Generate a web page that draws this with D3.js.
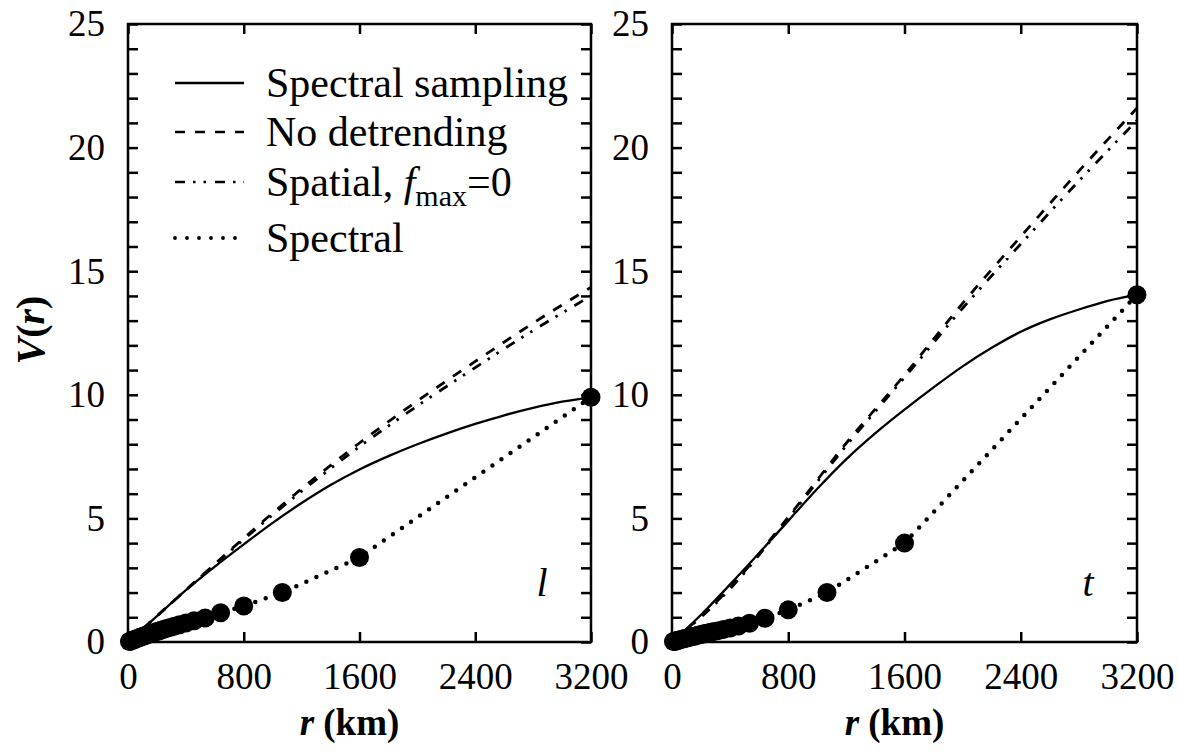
<!DOCTYPE html>
<html>
<head>
<meta charset="utf-8">
<script src="https://cdn.jsdelivr.net/npm/d3@7"></script>
<style>
  html, body { margin: 0; padding: 0; background: #fff; }
  svg { display: block; font-family: "Liberation Serif", "Times New Roman", serif; }
  .axis path, .axis line { stroke: #000; stroke-width: 2.5; }
  .axis text { font-size: 37px; fill: #000; font-family: "Liberation Serif", serif; }
</style>
</head>
<body>
<svg id="chart" width="1178" height="751"></svg>
<script>
// smooth curves, sampled every 200 km
const rFine = [0, 200, 400, 600, 800, 1000, 1200, 1400, 1600, 1800, 2000, 2200, 2400, 2600, 2800, 3000, 3200];
const samplingL = [0, 1.05, 2.1, 3.05, 3.95, 4.82, 5.62, 6.35, 6.98, 7.52, 8.0, 8.43, 8.82, 9.17, 9.47, 9.72, 9.9];
const samplingT = [0, 1.1, 2.33, 3.6, 4.9, 6.2, 7.4, 8.45, 9.4, 10.3, 11.15, 11.9, 12.55, 13.05, 13.45, 13.8, 14.05];

// nearly straight curves, sampled every 400 km
const rCoarse = [0, 400, 800, 1200, 1600, 2000, 2400, 2800, 3200];
const noDetrendL = [0, 2.1, 4.2, 6.2, 8.05, 9.75, 11.35, 12.9, 14.35];
const spatialL = [0, 2.1, 4.15, 6.1, 7.9, 9.55, 11.1, 12.6, 14.0];
const noDetrendT = [0, 2.2, 5.05, 8.05, 10.8, 13.7, 16.4, 19.05, 21.6];
const spatialT = [0, 2.15, 5.0, 7.95, 10.7, 13.5, 16.1, 18.65, 21.1];

// spectral estimates at r = 3200/k
const specR = [3200, 1600, 1066.7, 800, 640, 533.3, 457.1, 400, 355.6, 320, 290.9, 266.7, 246.2, 228.6, 213.3, 200,
               177.8, 160, 145.5, 128, 114.3, 100, 88.9, 80, 64, 50, 40, 32, 25, 20, 16, 10];
const spectralL = [9.9, 3.42, 2.0, 1.46, 1.18, 0.97, 0.86, 0.77, 0.7, 0.64, 0.59, 0.55, 0.51, 0.48, 0.45, 0.42,
                   0.38, 0.34, 0.31, 0.28, 0.25, 0.22, 0.2, 0.18, 0.14, 0.11, 0.09, 0.07, 0.055, 0.045, 0.035, 0.022];
const spectralT = [14.05, 4.0, 2.0, 1.3, 0.96, 0.76, 0.65, 0.57, 0.51, 0.46, 0.42, 0.39, 0.36, 0.34, 0.32, 0.30,
                   0.27, 0.245, 0.225, 0.2, 0.18, 0.16, 0.14, 0.13, 0.105, 0.082, 0.066, 0.053, 0.042, 0.033, 0.026, 0.017];

const xTicks = [0, 800, 1600, 2400, 3200];
const yMajor = [0, 5, 10, 15, 20, 25];
const legendLabels = ["Spectral sampling", "No detrending", "Spatial,", "Spectral"];

const svg = d3.select("#chart");
const plotTop = 24, plotBottom = 642;

const panels = [
  { left: 128, right: 591, letter: "l", letterX: 542, sampling: samplingL, noDetrend: noDetrendL, spatial: spatialL, spectral: spectralL, legend: true },
  { left: 672, right: 1137, letter: "t", letterX: 1088, sampling: samplingT, noDetrend: noDetrendT, spatial: spatialT, spectral: spectralT, legend: false }
];

const styles = {
  sampling: { dash: null, width: 2.3 },
  noDetrend: { dash: "10,10", width: 2.8 },
  spatial: { dash: "10,8,2.5,8,2.5,9", width: 2.8 },
  spectral: { dash: "0,11", width: 4.5 }
};

panels.forEach(p => {
  const x = d3.scaleLinear().domain([0, 3200]).range([p.left, p.right]);
  const y = d3.scaleLinear().domain([0, 25]).range([plotBottom, plotTop]);
  const g = svg.append("g");

  // frame
  g.append("rect")
    .attr("x", p.left).attr("y", plotTop)
    .attr("width", p.right - p.left).attr("height", plotBottom - plotTop)
    .attr("fill", "none").attr("stroke", "#000").attr("stroke-width", 2.5);

  // axes, ticks pointing inwards
  const xb = g.append("g").attr("class", "axis")
    .attr("transform", `translate(0,${plotBottom})`)
    .call(d3.axisBottom(x).tickValues(xTicks).tickSize(-10).tickFormat(d3.format("d")));
  xb.selectAll("text").attr("y", 21).attr("dy", "0.71em");
  g.append("g").attr("class", "axis")
    .attr("transform", `translate(0,${plotTop})`)
    .call(d3.axisTop(x).tickValues(xTicks).tickSize(-10).tickFormat(""));
  g.append("g").attr("class", "axis")
    .attr("transform", `translate(${p.left},0)`)
    .call(d3.axisLeft(y).tickValues(d3.range(0, 26)).tickSize(-10).tickPadding(23)
      .tickFormat(d => yMajor.includes(d) ? d : ""));
  g.append("g").attr("class", "axis")
    .attr("transform", `translate(${p.right},0)`)
    .call(d3.axisRight(y).tickValues(d3.range(0, 26)).tickSize(-10).tickFormat(""));
  g.selectAll(".axis .domain").remove();
  g.selectAll(".axis").attr("font-family", null);

  const line = d3.line().x(d => x(d[0])).y(d => y(d[1]));
  const smooth = d3.line().curve(d3.curveMonotoneX).x(d => x(d[0])).y(d => y(d[1]));

  const series = [
    { key: "noDetrend", pts: d3.zip(rCoarse, p.noDetrend), gen: smooth },
    { key: "spatial", pts: d3.zip(rCoarse, p.spatial), gen: smooth },
    { key: "sampling", pts: d3.zip(rFine, p.sampling), gen: smooth },
    { key: "spectral", pts: d3.zip(specR, p.spectral).sort((a, b) => a[0] - b[0]), gen: line }
  ];

  series.forEach(s => {
    g.append("path")
      .attr("d", s.gen(s.pts))
      .attr("fill", "none")
      .attr("stroke", "#000")
      .attr("stroke-width", styles[s.key].width)
      .attr("stroke-linecap", s.key === "spectral" ? "round" : "butt")
      .attr("stroke-dasharray", styles[s.key].dash);
  });

  g.selectAll("circle.spec")
    .data(d3.zip(specR, p.spectral))
    .join("circle")
    .attr("class", "spec")
    .attr("cx", d => x(d[0]))
    .attr("cy", d => y(d[1]))
    .attr("r", 9.5)
    .attr("fill", "#000");

  // panel letter
  g.append("text")
    .attr("x", p.letterX)
    .attr("y", 596)
    .attr("text-anchor", "middle")
    .attr("font-size", 40)
    .attr("font-style", "italic")
    .text(p.letter);

  // x axis title
  const xt = g.append("text")
    .attr("x", (p.left + p.right) / 2 - 10)
    .attr("y", 735)
    .attr("text-anchor", "middle")
    .attr("font-size", 37)
    .attr("font-weight", "bold");
  xt.append("tspan").attr("font-style", "italic").text("r");
  xt.append("tspan").text(" (km)");

  if (p.legend) {
    const rows = [83, 132, 182, 238];
    const keys = ["sampling", "noDetrend", "spatial", "spectral"];
    keys.forEach((k, i) => {
      g.append("line")
        .attr("x1", 175).attr("x2", 244)
        .attr("y1", rows[i]).attr("y2", rows[i])
        .attr("stroke", "#000")
        .attr("stroke-width", k === "spectral" ? 3.8 : 2.6)
        .attr("stroke-linecap", k === "spectral" ? "round" : "butt")
        .attr("stroke-dasharray", k === "spectral" ? "0,12" : styles[k].dash);
      const t = g.append("text")
        .attr("x", 266)
        .attr("y", rows[i] + 14)
        .attr("font-size", 42)
        .text(legendLabels[i]);
      if (k === "spatial") {
        t.append("tspan").text(" ");
        t.append("tspan").attr("font-style", "italic").text("f");
        t.append("tspan").attr("font-size", 30).attr("dy", 10).text("max");
        t.append("tspan").attr("dy", -10).text("=0");
      }
    });
  }
});

// y axis title
const yt = svg.append("text")
  .attr("transform", "translate(44,330) rotate(-90)")
  .attr("text-anchor", "middle")
  .attr("font-size", 40)
  .attr("font-weight", "bold");
yt.append("tspan").attr("font-style", "italic").text("V");
yt.append("tspan").text("(");
yt.append("tspan").attr("font-style", "italic").text("r");
yt.append("tspan").text(")");
</script>
</body>
</html>
